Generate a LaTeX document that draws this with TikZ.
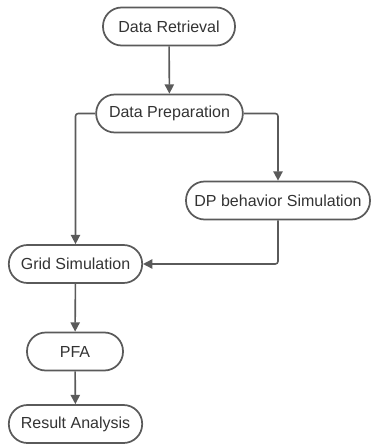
\documentclass[tikz,border=0pt]{standalone}
\usepackage{fontspec}
\setmainfont{Liberation Sans}
\usetikzlibrary{arrows.meta}
\definecolor{linegray}{HTML}{5A5A5A}
\definecolor{textgray}{HTML}{333333}
\begin{document}
\begin{tikzpicture}[x=0.75pt,y=-0.75pt,
  stadium/.style={draw=linegray,line width=1.3pt,rounded corners=14pt,
    minimum height=28.5pt,inner sep=0pt,font=\fontsize{12}{14}\selectfont,text=textgray},
  flow/.style={draw=linegray,line width=1.2pt,rounded corners=2pt,
    -{Triangle[length=7pt,width=7pt]}}]
\useasboundingbox (0,0) rectangle (371,445);
\node[stadium,minimum width=99pt] (ret) at (169,26.5) {Data Retrieval};
\node[stadium,minimum width=110pt] (prep) at (169.5,113.5) {Data Preparation};
\node[stadium,minimum width=138pt] (dp) at (278,200.5) {DP behavior Simulation};
\node[stadium,minimum width=100pt] (grid) at (75.5,264) {Grid Simulation};
\node[stadium,minimum width=72pt] (pfa) at (75,351.5) {PFA};
\node[stadium,minimum width=100pt] (res) at (75.5,424) {Result Analysis};
\draw[flow] (ret) -- (prep);
\draw[flow] (prep.west) -| (grid.north);
\draw[flow] (prep.east) -| (dp.north);
\draw[flow] (dp.south) |- (grid.east);
\draw[flow] (grid) -- (pfa);
\draw[flow] (pfa) -- (res);
\end{tikzpicture}
\end{document}
